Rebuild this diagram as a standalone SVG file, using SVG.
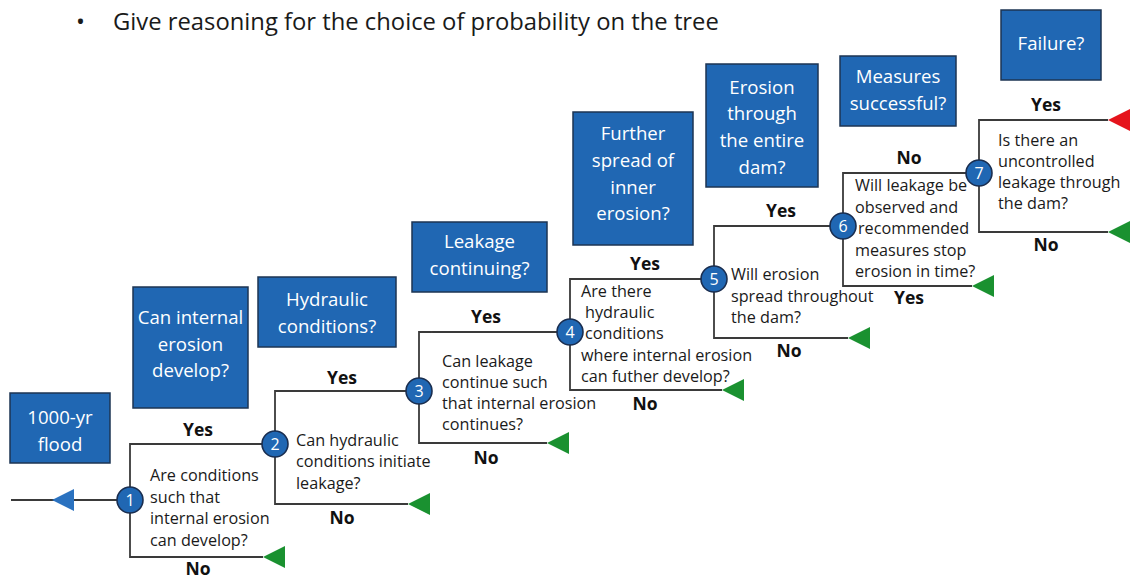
<svg xmlns="http://www.w3.org/2000/svg" xmlns:xlink="http://www.w3.org/1999/xlink" width="1130" height="579" viewBox="0 0 1130 579">
  <style>
    .hdr { font-family: "Open Sans", "Noto Sans", sans-serif; font-size: 23.8px; fill: #1a1a1a; }
    .box { fill: #2067b3; stroke: #1d3553; stroke-width: 1.5; }
    .boxt { font-family: "Open Sans", "Noto Sans", sans-serif; font-size: 18.6px; fill: #ffffff; text-anchor: middle; }
    .q { font-family: "Open Sans", "Noto Sans", sans-serif; font-size: 16.2px; fill: #1a1a1a; }
    .lbl { font-family: "Open Sans", "Noto Sans", sans-serif; font-size: 17.5px; font-weight: bold; fill: #111111; text-anchor: middle; }
    .wire { fill: none; stroke: #3a3a3a; stroke-width: 1.8; }
    .dot { fill: #2067b3; stroke: #1a2e50; stroke-width: 1.6; }
    .num { font-family: "Open Sans", "Noto Sans", sans-serif; font-size: 16px; fill: #ffffff; text-anchor: middle; }
    .go { fill: #1a9130; }
    .stop { fill: #e5141c; }
    .start { fill: #2a72c0; }
  </style>
  <defs>
    <!-- left-pointing end triangle, tip at origin -->
    <polygon id="tri" points="0,0 22,-11 22,11"/>
  </defs>

  <!-- heading bullet -->
  <g id="heading">
    <text class="hdr" x="76" y="30">•</text>
    <text class="hdr" x="113" y="30">Give reasoning for the choice of probability on the tree</text>
  </g>

  <!-- column header boxes -->
  <g id="h-flood">
    <rect class="box" x="10" y="393" width="100" height="70"/>
    <text class="boxt" x="60" y="424">1000-yr</text>
    <text class="boxt" x="60" y="451">flood</text>
  </g>
  <g id="h-internal">
    <rect class="box" x="133" y="287" width="115" height="121"/>
    <text class="boxt" x="190.5" y="324">Can internal</text>
    <text class="boxt" x="190.5" y="351">erosion</text>
    <text class="boxt" x="190.5" y="377">develop?</text>
  </g>
  <g id="h-hydraulic">
    <rect class="box" x="258" y="277" width="138" height="70"/>
    <text class="boxt" x="327" y="306">Hydraulic</text>
    <text class="boxt" x="327" y="333">conditions?</text>
  </g>
  <g id="h-leakage">
    <rect class="box" x="412" y="222" width="135" height="70"/>
    <text class="boxt" x="479.5" y="248">Leakage</text>
    <text class="boxt" x="479.5" y="275">continuing?</text>
  </g>
  <g id="h-spread">
    <rect class="box" x="573" y="112" width="120" height="133"/>
    <text class="boxt" x="633" y="140">Further</text>
    <text class="boxt" x="633" y="167">spread of</text>
    <text class="boxt" x="633" y="194">inner</text>
    <text class="boxt" x="633" y="220">erosion?</text>
  </g>
  <g id="h-through">
    <rect class="box" x="706" y="64" width="112" height="123"/>
    <text class="boxt" x="762" y="94">Erosion</text>
    <text class="boxt" x="762" y="120">through</text>
    <text class="boxt" x="762" y="147">the entire</text>
    <text class="boxt" x="762" y="174">dam?</text>
  </g>
  <g id="h-measures">
    <rect class="box" x="840" y="56" width="116" height="70"/>
    <text class="boxt" x="898" y="83">Measures</text>
    <text class="boxt" x="898" y="110">successful?</text>
  </g>
  <g id="h-failure">
    <rect class="box" x="1001" y="10" width="100" height="70"/>
    <text class="boxt" x="1051" y="50">Failure?</text>
  </g>

  <!-- branch lines, end triangles and Yes/No labels -->
  <g id="connectors">
    <path class="wire" d="M11,500 H117"/>
    <use xlink:href="#tri" class="start" x="52" y="500"/>

    <path class="wire" d="M263,557 H130 V444 H275"/>
    <use xlink:href="#tri" class="go" x="263" y="557"/>
    <text class="lbl" x="198" y="436">Yes</text>
    <text class="lbl" x="198" y="575">No</text>

    <path class="wire" d="M408,504 H275 V391 H419"/>
    <use xlink:href="#tri" class="go" x="408" y="504"/>
    <text class="lbl" x="342" y="384">Yes</text>
    <text class="lbl" x="342" y="524">No</text>

    <path class="wire" d="M547,443 H419 V332 H570"/>
    <use xlink:href="#tri" class="go" x="547" y="443"/>
    <text class="lbl" x="486" y="323">Yes</text>
    <text class="lbl" x="486" y="464">No</text>

    <path class="wire" d="M722,390 H570 V279 H714"/>
    <use xlink:href="#tri" class="go" x="722" y="390"/>
    <text class="lbl" x="645" y="270">Yes</text>
    <text class="lbl" x="645" y="410">No</text>

    <path class="wire" d="M848,338 H714 V226 H843"/>
    <use xlink:href="#tri" class="go" x="848" y="338"/>
    <text class="lbl" x="781" y="217">Yes</text>
    <text class="lbl" x="789" y="357">No</text>

    <path class="wire" d="M972,286 H843 V173 H979"/>
    <use xlink:href="#tri" class="go" x="972" y="286"/>
    <text class="lbl" x="909" y="164">No</text>
    <text class="lbl" x="909" y="304">Yes</text>

    <path class="wire" d="M1108,232 H979 V120 H1108"/>
    <use xlink:href="#tri" class="go" x="1108" y="232"/>
    <use xlink:href="#tri" class="stop" x="1108" y="120"/>
    <text class="lbl" x="1046" y="111">Yes</text>
    <text class="lbl" x="1046" y="251">No</text>
  </g>

  <!-- event nodes -->
  <g id="node-1">
    <circle class="dot" cx="130" cy="500" r="13"/>
    <text class="num" x="130" y="505.5">1</text>
    <text class="q" x="150" y="481">Are conditions</text>
    <text class="q" x="150" y="502.5">such that</text>
    <text class="q" x="150" y="524">internal erosion</text>
    <text class="q" x="150" y="545.5">can develop?</text>
  </g>
  <g id="node-2">
    <circle class="dot" cx="275" cy="444" r="13"/>
    <text class="num" x="275" y="449.5">2</text>
    <text class="q" x="296" y="446">Can hydraulic</text>
    <text class="q" x="296" y="467">conditions initiate</text>
    <text class="q" x="296" y="489">leakage?</text>
  </g>
  <g id="node-3">
    <circle class="dot" cx="419" cy="391" r="13"/>
    <text class="num" x="419" y="396.5">3</text>
    <text class="q" x="442" y="367">Can leakage</text>
    <text class="q" x="442" y="388">continue such</text>
    <text class="q" x="442" y="409">that internal erosion</text>
    <text class="q" x="442" y="430">continues?</text>
  </g>
  <g id="node-4">
    <circle class="dot" cx="570" cy="332" r="13"/>
    <text class="num" x="570" y="337.5">4</text>
    <text class="q" x="581" y="297">Are there</text>
    <text class="q" x="585" y="318">hydraulic</text>
    <text class="q" x="585" y="339">conditions</text>
    <text class="q" x="581" y="361">where internal erosion</text>
    <text class="q" x="581" y="382">can futher develop?</text>
  </g>
  <g id="node-5">
    <circle class="dot" cx="714" cy="279" r="13"/>
    <text class="num" x="714" y="284.5">5</text>
    <text class="q" x="731" y="280">Will erosion</text>
    <text class="q" x="731" y="302">spread throughout</text>
    <text class="q" x="731" y="323">the dam?</text>
  </g>
  <g id="node-6">
    <circle class="dot" cx="843" cy="226" r="13"/>
    <text class="num" x="843" y="231.5">6</text>
    <text class="q" x="855" y="191">Will leakage be</text>
    <text class="q" x="855" y="213">observed and</text>
    <text class="q" x="858" y="234">recommended</text>
    <text class="q" x="855" y="256">measures stop</text>
    <text class="q" x="855" y="277">erosion in time?</text>
  </g>
  <g id="node-7">
    <circle class="dot" cx="979" cy="173" r="13"/>
    <text class="num" x="979" y="178.5">7</text>
    <text class="q" x="998" y="146">Is there an</text>
    <text class="q" x="998" y="167">uncontrolled</text>
    <text class="q" x="998" y="188">leakage through</text>
    <text class="q" x="998" y="209">the dam?</text>
  </g>
</svg>
